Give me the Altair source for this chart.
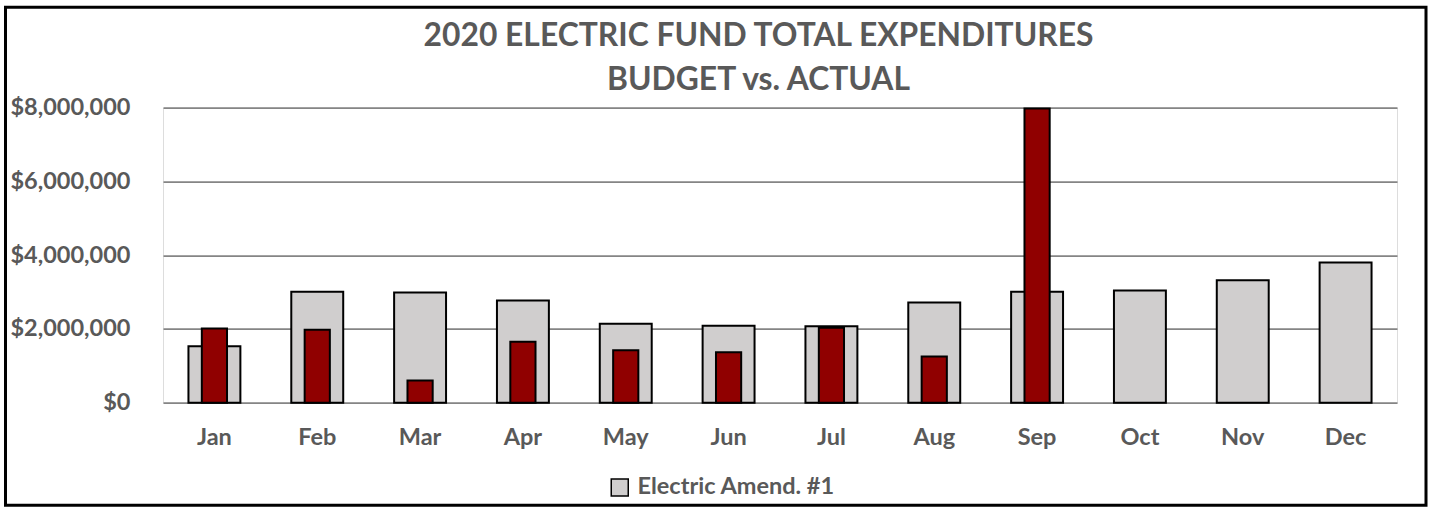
import altair as alt
import pandas as pd

months = ["Jan", "Feb", "Mar", "Apr", "May", "Jun", "Jul", "Aug", "Sep", "Oct", "Nov", "Dec"]
budget = [1530000, 3010000, 2990000, 2770000, 2140000, 2090000, 2070000, 2720000, 3010000, 3040000, 3320000, 3800000]
actual = [2010000, 1980000, 600000, 1650000, 1420000, 1370000, 2030000, 1250000, 7980000, None, None, None]
series_name = "Electric Amend. #1"
title_lines = ["2020 ELECTRIC FUND TOTAL EXPENDITURES", "BUDGET vs. ACTUAL"]

df = pd.DataFrame({"month": months, "budget": budget, "actual": actual, "series": series_name})
df_actual = df.dropna(subset=["actual"])

FONT = "Lato"
TXT = "#595959"
LBL = 23.5

x_enc = alt.X("month:N", sort=months, scale=alt.Scale(paddingInner=0, paddingOuter=0),
              axis=alt.Axis(title=None, labelAngle=0, domain=False, ticks=False, grid=False,
                            labelFont=FONT, labelFontSize=LBL, labelFontWeight="bold",
                            labelColor=TXT, labelPadding=23))
y_scale = alt.Scale(domain=[0, 8000000], nice=False)

gray = alt.Chart(df).mark_bar(width={"band": 0.505}, stroke="black", strokeWidth=2).encode(
    x=x_enc,
    y=alt.Y("budget:Q", scale=y_scale,
            axis=alt.Axis(title=None, values=[0, 2000000, 4000000, 6000000, 8000000], format="$,.0f",
                          domain=False, ticks=False, grid=True, gridColor="#858585", gridWidth=1.7,
                          labelFont=FONT, labelFontSize=LBL, labelFontWeight="bold", labelColor=TXT,
                          labelPadding=33)),
    color=alt.Color("series:N", scale=alt.Scale(domain=[series_name], range=["#D0CECE"]),
                    legend=alt.Legend(title=None, orient="none", legendX=445, legendY=368,
                                      symbolType="square", symbolSize=289, symbolStrokeColor="black",
                                      symbolStrokeWidth=1.5, symbolOpacity=1, labelFont=FONT,
                                      labelFontSize=LBL, labelFontWeight="bold", labelColor=TXT,
                                      labelOffset=6, labelLimit=600, padding=0)),
)

red = alt.Chart(df_actual).mark_bar(width={"band": 0.245}, color="#900000", stroke="black", strokeWidth=2).encode(
    x=alt.X("month:N", sort=months),
    y=alt.Y("actual:Q", scale=y_scale),
)

title = alt.Chart(alt.Data(values=[{"k": 1}])).mark_text(
    text=title_lines, font=FONT, fontSize=31.8, fontWeight="bold", color=TXT,
    align="center", baseline="alphabetic", lineHeight=44,
).encode(x=alt.value(595.5), y=alt.value(-61.7))

border = alt.Chart(alt.Data(values=[{"k": 1}])).mark_rect(fillOpacity=0, stroke="black", strokeWidth=3).encode(
    x=alt.value(-157.5), x2=alt.value(1263), y=alt.value(-100.5), y2=alt.value(397.5)
)

chart = alt.layer(gray, red, title, border).properties(
    width=1234, height=295,
    autosize="none",
    padding={"left": 163, "top": 107.7, "right": 34, "bottom": 105.3},
).configure_view(stroke=None).configure(background="white")

chart.save("out.html", embed_options={"renderer": "svg", "actions": False})
